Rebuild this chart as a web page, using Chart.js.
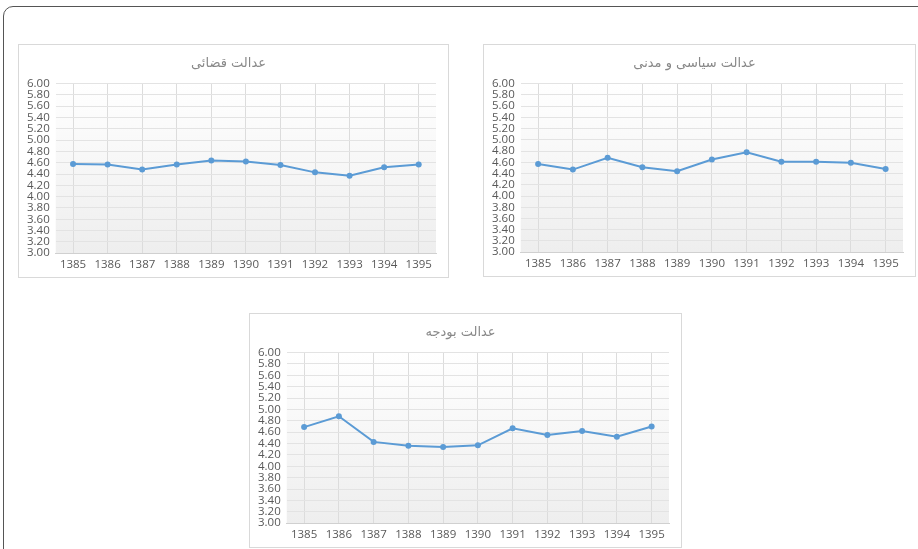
<!DOCTYPE html>
<html>
<head>
<meta charset="utf-8">
<script src="https://cdn.jsdelivr.net/npm/chart.js@4.4.0/dist/chart.umd.min.js"></script>
<style>
  body { margin: 0; background: #fff; width: 918px; height: 549px; overflow: hidden; position: relative; }
  .frame { position: absolute; left: 3px; top: 6px; width: 940px; height: 570px; border: 1px solid #555; border-radius: 10px; }
  .box { position: absolute; border: 1px solid #d9d9d9; background: #fff; }
  canvas { display: block; }
</style>
</head>
<body>
<div class="frame"></div>
<div class="box" style="left:18px; top:44px;"><canvas id="c1" width="429" height="232"></canvas></div>
<div class="box" style="left:483px; top:44px;"><canvas id="c2" width="431" height="231"></canvas></div>
<div class="box" style="left:249px; top:313px;"><canvas id="c3" width="431" height="233"></canvas></div>
<script>
const years = ["1385", "1386", "1387", "1388", "1389", "1390", "1391", "1392", "1393", "1394", "1395"];
const yTicks = [3.0, 3.2, 3.4, 3.6, 3.8, 4.0, 4.2, 4.4, 4.6, 4.8, 5.0, 5.2, 5.4, 5.6, 5.8, 6.0];

const judicialTitle = "عدالت قضائی";
const judicial = [4.58, 4.57, 4.48, 4.57, 4.64, 4.62, 4.56, 4.43, 4.37, 4.52, 4.57];

const politicalTitle = "عدالت سیاسی و مدنی";
const political = [4.57, 4.47, 4.68, 4.51, 4.44, 4.65, 4.78, 4.61, 4.61, 4.59, 4.48];

const budgetTitle = "عدالت بودجه";
const budget = [4.69, 4.88, 4.43, 4.36, 4.34, 4.37, 4.67, 4.55, 4.62, 4.52, 4.70];

const areaFill = {
    id: "areaFill",
    beforeDraw(chart) {
        const a = chart.chartArea, ctx = chart.ctx;
        const g = ctx.createLinearGradient(0, a.top, 0, a.bottom);
        g.addColorStop(0, "#ffffff");
        g.addColorStop(1, "#eeeeee");
        ctx.save();
        ctx.fillStyle = g;
        ctx.fillRect(a.left, a.top, a.right - a.left, a.bottom - a.top);
        ctx.restore();
    }
};

function makeChart(id, title, values) {
    const ctx = document.getElementById(id).getContext("2d");
    return new Chart(ctx, {
        type: "line",
        data: {
            labels: years,
            datasets: [{
                data: values,
                borderColor: "#5b9bd5",
                backgroundColor: "#5b9bd5",
                borderWidth: 2,
                pointRadius: 3,
                pointBorderWidth: 0,
                tension: 0
            }]
        },
        options: {
            animation: false,
            responsive: false,
            layout: { padding: { left: 2, right: 12, top: 4, bottom: 0 } },
            plugins: {
                legend: { display: false },
                tooltip: { enabled: false },
                title: {
                    display: true,
                    text: title,
                    color: "#888888",
                    font: { family: "DejaVu Sans", size: 13, weight: "normal" },
                    padding: { top: 7, bottom: 12 }
                }
            },
            scales: {
                x: {
                    offset: true,
                    grid: { color: "#dcdcdc", offset: false, drawTicks: false },
                    border: { color: "#d0d0d0" },
                    ticks: { color: "#595959", font: { family: "Open Sans", size: 11.5 }, padding: 5, maxRotation: 0, autoSkip: false }
                },
                y: {
                    min: yTicks[0],
                    max: yTicks[yTicks.length - 1],
                    afterBuildTicks: axis => { axis.ticks = yTicks.map(v => ({ value: v })); },
                    grid: { color: "#e3e3e3", drawTicks: false },
                    border: { display: false },
                    ticks: {
                        autoSkip: false,
                        color: "#595959",
                        font: { family: "Open Sans", size: 11.5 },
                        padding: 6,
                        callback: v => v.toFixed(2)
                    }
                }
            }
        },
        plugins: [areaFill]
    });
}

makeChart("c1", judicialTitle, judicial);
makeChart("c2", politicalTitle, political);
makeChart("c3", budgetTitle, budget);
</script>
</body>
</html>
